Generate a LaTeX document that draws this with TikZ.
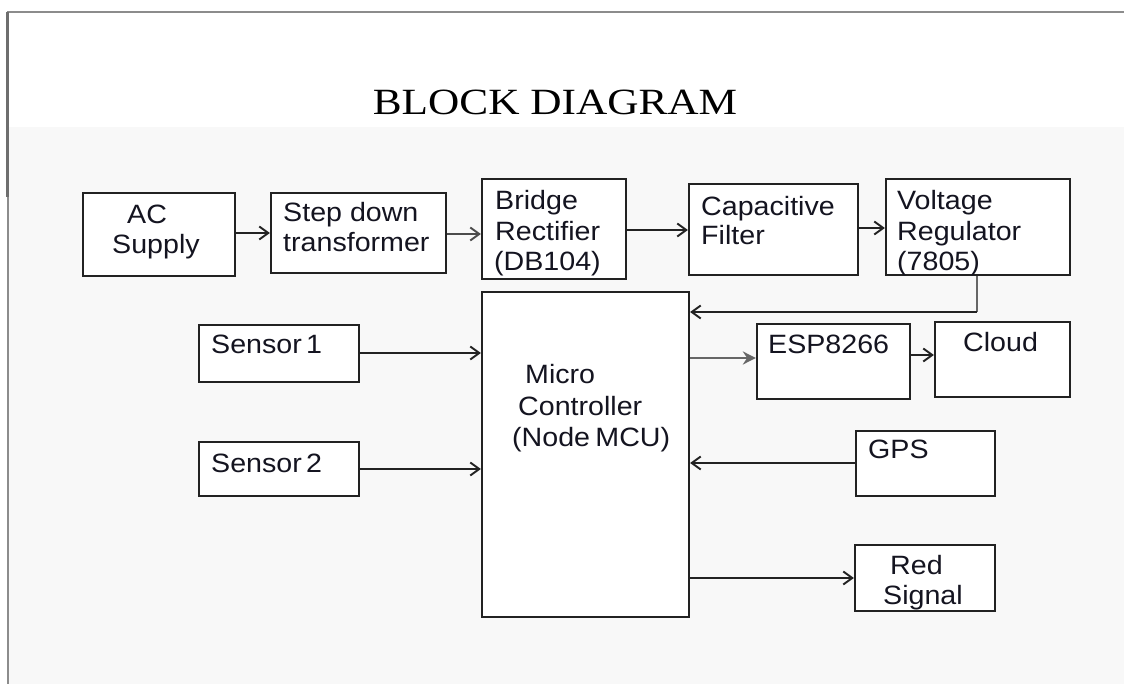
\documentclass[tikz,border=0pt]{standalone}
\usepackage{fontspec}
\usepackage{graphicx}
\setmainfont{Liberation Sans}[FakeStretch=1.08]
\newfontfamily\titlefont{Liberation Serif}[FakeStretch=1.17]
\usetikzlibrary{arrows.meta}
\definecolor{bg}{HTML}{F8F8F8}
\definecolor{frame}{HTML}{8C8C8C}
\definecolor{frameD}{HTML}{6E6E6E}
\definecolor{boxline}{HTML}{222222}
\definecolor{txt}{HTML}{141420}
\tikzset{
  blk/.style={draw=boxline, line width=2.2pt, fill=white, inner sep=0pt},
  lbl/.style={anchor=base west, inner sep=0pt, text=txt, font=\fontsize{26.5}{31}\selectfont},
  arr/.style={draw=boxline, line width=1.9pt, -{Straight Barb[length=9pt,width=13pt,line width=1.9pt]}},
  garr/.style={draw=black!60, line width=2.8pt, -{Stealth[length=13pt,width=13pt]}},
}
\newcommand{\blkbox}[5]{\node[blk, minimum width=#4-#2, minimum height=#5-#3] (#1) at ({(#2+#4)/2},{(#3+#5)/2}) {};}
\begin{document}
\begin{tikzpicture}[x=1pt,y=-1pt]
\useasboundingbox (0,0) rectangle (1124,684);
% background and frame
\fill[white] (0,0) rectangle (1124,684);
\fill[bg] (9,127) rectangle (1124,684);
\draw[frame, line width=1.8pt] (8,684) -- (8,12) -- (1124,12);
\draw[frameD, line width=2.4pt] (7.5,12) -- (7.5,197);
% title
\node[anchor=base, inner sep=0pt, text=black, font=\titlefont\fontsize{37}{44}\selectfont] (title) at (555,115) {BLOCK DIAGRAM};
% boxes
\blkbox{AC}{83}{193}{235}{276}
\blkbox{Step}{271}{193}{446}{273}
\blkbox{Bridge}{482}{179}{626}{279}
\blkbox{Cap}{689}{184}{858}{275}
\blkbox{VR}{886}{179}{1070}{275}
\blkbox{MCU}{482}{292}{689}{617}
\blkbox{SA}{199}{325}{359}{382}
\blkbox{SB}{199}{442}{359}{496}
\blkbox{ESP}{757}{324}{910}{399}
\blkbox{Cloud}{935}{322}{1070}{397}
\blkbox{GPS}{856}{431}{995}{496}
\blkbox{Red}{855}{545}{995}{611}
% labels
\node[lbl] (tAC1) at (127,224) {AC};
\node[lbl] (tAC2) at (112,254) {Supply};
\node[lbl] (tSt1) at (283,222) {Step down};
\node[lbl] (tSt2) at (283,252) {transformer};
\node[lbl] (tBr1) at (495,210) {Bridge};
\node[lbl] (tBr2) at (495,241) {Rectifier};
\node[lbl] (tBr3) at (494,271) {(DB104)};
\node[lbl] (tCa1) at (701,216) {Capacitive};
\node[lbl] (tCa2) at (701,245) {Filter};
\node[lbl] (tVR1) at (897,210) {Voltage};
\node[lbl] (tVR2) at (897,241) {Regulator};
\node[lbl] (tVR3) at (897,271) {(7805)};
\node[lbl] (tSA) at (211,353) {Sensor\hspace{0.16em}1};
\node[lbl] (tSB) at (211,472) {Sensor\hspace{0.16em}2};
\node[lbl] (tMC1) at (525,384) {Micro};
\node[lbl] (tMC2) at (518,415) {Controller};
\node[lbl] (tMC3) at (512,446) {(Node\hspace{0.2em}MCU)};
\node[lbl] (tESP) at (768,353) {ESP8266};
\node[lbl] (tCl) at (963,352) {Cloud};
\node[lbl] (tGPS) at (868,458) {GPS};
\node[lbl] (tRe1) at (890,574) {Red};
\node[lbl] (tRe2) at (883,604) {Signal};
% connectors
\draw[arr] (AC.east |- 0,233) -- (Step.west |- 0,233);
\draw[arr, draw=black!70, line width=2.3pt] (Step.east |- 0,234) -- (Bridge.west |- 0,234);
\draw[arr] (Bridge.east |- 0,230) -- (Cap.west |- 0,230);
\draw[arr] (Cap.east |- 0,228) -- (VR.west |- 0,228);
\coordinate (vrb) at (977,312);
\draw[draw=black!60, line width=2.8pt] (VR.south -| vrb) -- (vrb);
\draw[arr] (vrb) -- (MCU.east |- vrb);
\draw[arr] (SA.east |- 0,353) -- (MCU.west |- 0,353);
\draw[arr] (SB.east |- 0,469) -- (MCU.west |- 0,469);
\draw[garr] (MCU.east |- 0,358) -- (ESP.west |- 0,358);
\draw[arr] (ESP.east |- 0,355) -- (Cloud.west |- 0,355);
\draw[arr] (GPS.west |- 0,463) -- (MCU.east |- 0,463);
\draw[arr] (MCU.east |- 0,578) -- (Red.west |- 0,578);
\end{tikzpicture}
\end{document}
